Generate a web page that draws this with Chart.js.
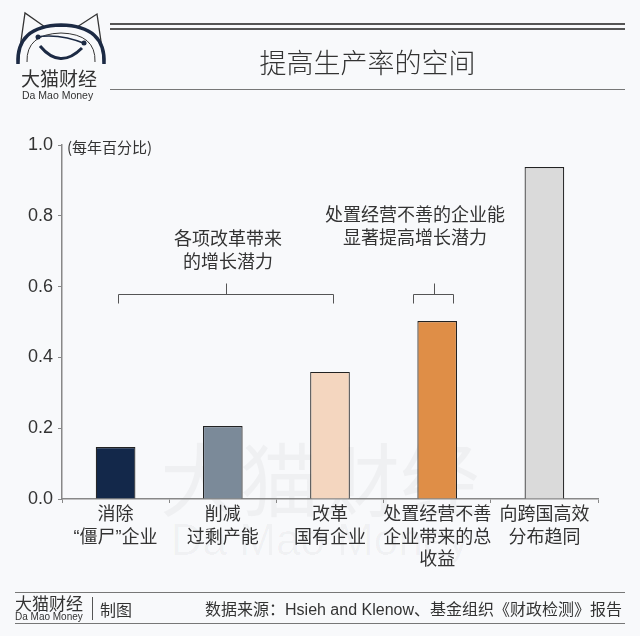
<!DOCTYPE html>
<html>
<head>
<meta charset="utf-8">
<script src="https://cdn.jsdelivr.net/npm/chart.js@4"></script>
<style>
  body { margin:0; background:#f8f9fb; }
  #wrap { position:relative; width:640px; height:636px; overflow:hidden; background:#f8f9fb;
          font-family:"Noto Sans CJK SC","Noto Sans",sans-serif; color:#333; }
  #c { position:absolute; left:0; top:0; }
  .abs { position:absolute; white-space:nowrap; }
  .hl { position:absolute; background:#555; }
</style>
</head>
<body>
<div id="wrap">
  <!-- faint watermark -->
  <div class="abs" style="left:0;top:430px;width:640px;text-align:center;font-size:80px;line-height:90px;color:rgba(0,0,0,0.035);">大猫财经</div>
  <div class="abs" style="left:0;top:515px;width:640px;text-align:center;font-size:44px;font-family:'Liberation Sans';color:rgba(0,0,0,0.035);">Da Mao Money</div>

  <canvas id="c" width="640" height="636"></canvas>

  <!-- logo -->
  <svg class="abs" style="left:0;top:0" width="120" height="70" viewBox="0 0 120 70">
    <path d="M18 62 L25 13 L45 27" fill="none" stroke="#333" stroke-width="1.3"/>
    <path d="M104 62 L97 14 L77 27" fill="none" stroke="#333" stroke-width="1.3"/>
    <path d="M18 64 Q16 26 61 25 Q106 26 104 64" fill="none" stroke="#1c2a44" stroke-width="3.5"/>
    <path d="M27 62 Q26 34 61 33 Q96 34 95 62" fill="none" stroke="#333" stroke-width="1"/>
    <path d="M36 37 Q60 33 86 44" fill="none" stroke="#1c2a44" stroke-width="1.5"/>
    <path d="M40 46 Q60 70 82 48" fill="none" stroke="#1c2a44" stroke-width="3"/>
    <circle cx="38" cy="37" r="2.5" fill="#1c2a44"/>
    <circle cx="84" cy="43" r="2.5" fill="#1c2a44"/>
  </svg>
  <div class="abs" style="left:21px;top:65px;font-size:19px;line-height:26px;color:#333;">大猫财经</div>
  <div class="abs" style="left:22px;top:89px;font-size:10.5px;line-height:12px;font-family:'Liberation Sans';color:#333;">Da Mao Money</div>

  <!-- header lines + title -->
  <div class="hl" style="left:110px;top:23px;width:515px;height:2px;"></div>
  <div class="hl" style="left:110px;top:27.5px;width:515px;height:2px;"></div>
  <div class="abs" style="left:110px;top:42px;width:515px;text-align:center;font-size:27px;line-height:40px;font-weight:300;color:#333;">提高生产率的空间</div>
  <div class="hl" style="left:110px;top:89px;width:515px;height:1px;background:#777;"></div>

  <!-- y title -->
  <div class="abs" style="left:67px;top:137px;font-size:15px;line-height:20px;color:#333;">(每年百分比)</div>

  <!-- annotations -->
  <div class="abs" style="left:128px;top:226px;width:200px;text-align:center;font-size:18px;line-height:23px;color:#333;">各项改革带来<br>的增长潜力</div>
  <div class="abs" style="left:285px;top:202px;width:260px;text-align:center;font-size:18px;line-height:23px;color:#333;">处置经营不善的企业能<br>显著提高增长潜力</div>

  <!-- footer -->
  <div class="hl" style="left:15px;top:592px;width:610px;height:1px;background:#777;"></div>
  <div class="hl" style="left:15px;top:623px;width:610px;height:1px;background:#777;"></div>
  <div class="abs" style="left:15px;top:592px;font-size:17px;line-height:22px;color:#333;">大猫财经</div>
  <div class="abs" style="left:15px;top:611px;font-size:10px;line-height:11px;font-family:'Liberation Sans';color:#333;">Da Mao Money</div>
  <div class="hl" style="left:92px;top:597px;width:1px;height:23px;background:#555;"></div>
  <div class="abs" style="left:100px;top:598px;font-size:16px;line-height:22px;color:#333;">制图</div>
  <div class="abs" style="right:18px;top:597px;font-size:16px;line-height:22px;color:#333;">数据来源：<span style="font-family:'Liberation Sans'">Hsieh and Klenow</span>、基金组织《财政检测》报告</div>
</div>

<script>
const categories = [
  ['消除', '“僵尸”企业'],
  ['削减', '过剩产能'],
  ['改革', '国有企业'],
  ['处置经营不善', '企业带来的总', '收益'],
  ['向跨国高效', '分布趋同']
];
const values = [0.147, 0.206, 0.359, 0.503, 0.938];
const barColors = ['#13284a', '#7b8a99', '#f4d6bf', '#df8e47', '#dadada'];
const yTicks = [0, 0.2, 0.4, 0.6, 0.8, 1.0];

// brackets: [from category, to category, y value]
const brackets = [
  [0.02, 2.03, 0.578],
  [2.77, 3.15, 0.578]
];

const bracketPlugin = {
  id: 'brackets',
  afterDatasetsDraw(chart) {
    const ctx = chart.ctx;
    const x = chart.scales.x, y = chart.scales.y;
    ctx.save();
    ctx.strokeStyle = '#555';
    ctx.lineWidth = 1;
    brackets.forEach(b => {
      const x1 = Math.round(x.getPixelForValue(b[0])) + 0.5;
      const x2 = Math.round(x.getPixelForValue(b[1])) + 0.5;
      const yy = Math.round(y.getPixelForValue(b[2])) + 0.5;
      const mid = Math.round((x1 + x2) / 2) + 0.5;
      ctx.beginPath();
      ctx.moveTo(x1, yy + 9); ctx.lineTo(x1, yy); ctx.lineTo(x2, yy); ctx.lineTo(x2, yy + 9);
      ctx.moveTo(mid, yy); ctx.lineTo(mid, yy - 11);
      ctx.stroke();
    });
    ctx.restore();
  }
};

new Chart(document.getElementById('c'), {
  type: 'bar',
  data: {
    labels: categories,
    datasets: [{
      data: values,
      backgroundColor: barColors,
      borderColor: '#222',
      borderWidth: 1.2,
      barPercentage: 0.74,
      categoryPercentage: 0.5
    }]
  },
  options: {
    responsive: false,
    animation: false,
    layout: { padding: { left: 12, right: 42, top: 145, bottom: 67 } },
    plugins: { legend: { display: false }, tooltip: { enabled: false } },
    scales: {
      x: {
        grid: { drawOnChartArea: false, tickLength: 4, color: '#888', offset: true },
        border: { color: '#888', width: 1.5 },
        ticks: {
          color: '#333',
          font: { family: '"Liberation Sans", "Noto Sans CJK SC"', size: 18, lineHeight: 1.25 },
          maxRotation: 0,
          autoSkip: false,
          padding: 1
        },
        afterFit(s) { s.height = 70; }
      },
      y: {
        min: 0, max: 1,
        afterBuildTicks(s) { s.ticks = yTicks.map(v => ({ value: v })); },
        grid: { drawOnChartArea: false, tickLength: 4, color: '#888' },
        border: { color: '#888', width: 1.5 },
        ticks: {
          color: '#333',
          font: { family: 'Liberation Sans', size: 18 },
          padding: 5,
          callback: v => v.toFixed(1)
        },
        afterFit(s) { s.width = 50; }
      }
    }
  },
  plugins: [bracketPlugin]
});
</script>
</body>
</html>
